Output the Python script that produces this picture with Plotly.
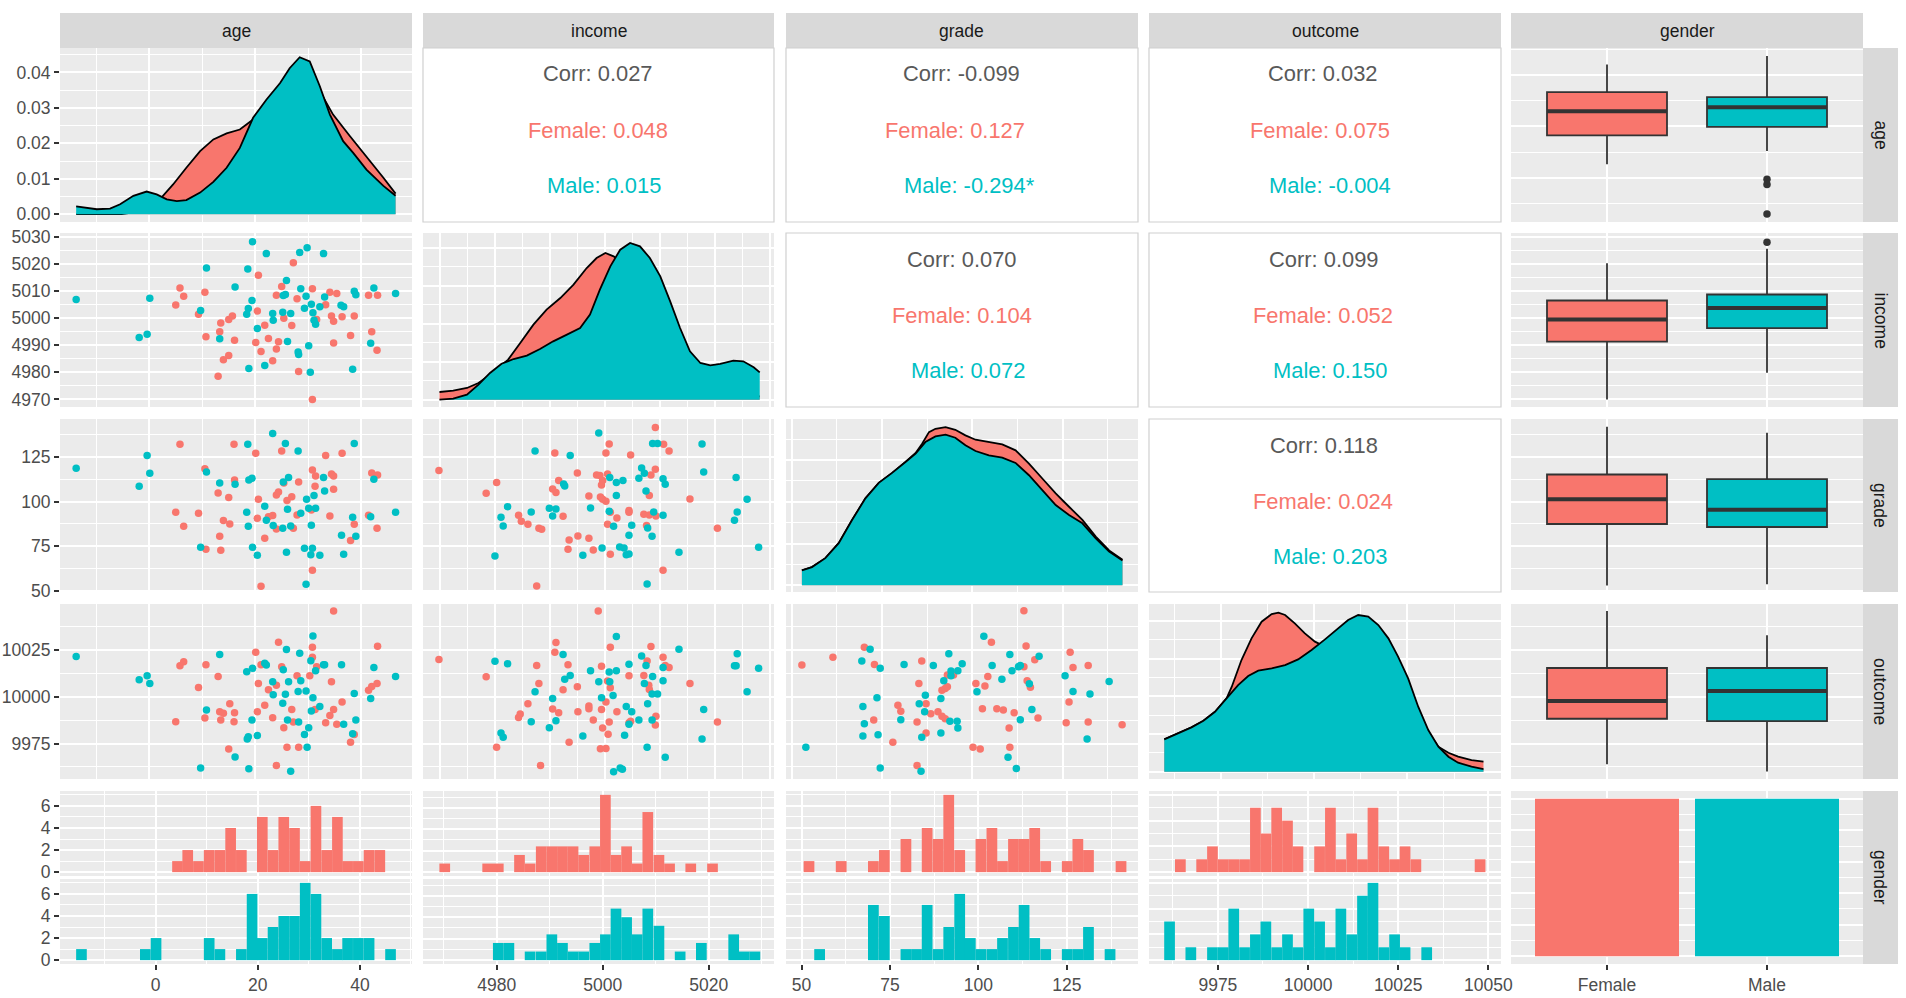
import plotly.graph_objects as go

FEMALE = "#F8766D"
MALE = "#00BFC4"

variables = ["age", "income", "grade", "outcome", "gender"]

# ---- diagonal densities (x, density) ----
age_dens_f_x = [-13.8, -9.9, -5.2, -3.0, -0.5, 2.3, 4.5, 7.0, 9.6, 12.1, 14.6, 17.1, 19.6, 22.1,
                24.7, 26.5, 28.4, 30.3, 32.2, 34.7, 37.9, 41.0, 44.2, 46.5]
age_dens_f = [0.0, 0.0, 0.0, 0.0005, 0.0019, 0.0047, 0.0084, 0.0131, 0.0178, 0.0211, 0.0228, 0.0239,
              0.0267, 0.0309, 0.0353, 0.0384, 0.0412, 0.0403, 0.0347, 0.0281, 0.0220, 0.0164, 0.0103, 0.0058]
age_dens_m_x = [-13.8, -9.9, -7.4, -5.5, -3.0, -0.5, 1.4, 3.3, 5.2, 7.0, 9.6, 12.1, 14.6, 17.1,
                19.6, 22.1, 24.7, 26.5, 28.4, 30.3, 32.2, 34.1, 36.6, 38.5, 41.0, 44.2, 46.5]
age_dens_m = [0.0022, 0.0014, 0.0016, 0.0028, 0.0052, 0.0064, 0.0056, 0.0042, 0.0037, 0.0040, 0.0061,
              0.0091, 0.0131, 0.0187, 0.0272, 0.0323, 0.0370, 0.0412, 0.0443, 0.0431, 0.0361, 0.0281,
              0.0206, 0.0173, 0.0126, 0.0080, 0.0052]

inc_dens_f_x = [4969.9, 4972.4, 4974.9, 4977.0, 4979.1, 4981.2, 4982.4, 4984.6, 4987.0, 4989.4, 4991.9,
                4994.3, 4996.7, 4998.5, 5000.1, 5001.6, 5002.8, 5004.6, 5006.4, 5008.2, 5010.1, 5011.9,
                5013.7, 5015.5, 5017.4, 5019.2, 5021.0, 5023.4, 5025.8, 5028.2]
inc_dens_f = [0.00202, 0.00237, 0.00307, 0.00439, 0.00658, 0.00904, 0.01053, 0.01491, 0.01974, 0.02368,
              0.02675, 0.03026, 0.03465, 0.03728, 0.03860, 0.03772, 0.03640, 0.03377, 0.02982, 0.02500,
              0.01974, 0.01447, 0.01009, 0.00658, 0.00439, 0.00307, 0.00219, 0.00158, 0.00132, 0.00088]
inc_dens_m_x = [4969.9, 4972.4, 4974.9, 4977.0, 4979.1, 4981.2, 4983.4, 4985.8, 4988.2, 4990.6, 4993.1,
                4995.5, 4997.3, 4999.1, 5001.0, 5002.8, 5004.6, 5006.4, 5008.2, 5010.1, 5011.9, 5013.7,
                5015.5, 5017.4, 5019.2, 5021.0, 5023.4, 5025.2, 5027.1, 5028.2]
inc_dens_m = [0.0, 0.00026, 0.00132, 0.00395, 0.00702, 0.00947, 0.01070, 0.01158, 0.01333, 0.01535,
              0.01711, 0.01886, 0.02237, 0.02895, 0.03509, 0.03947, 0.04123, 0.04035, 0.03728, 0.03246,
              0.02588, 0.01886, 0.01272, 0.00965, 0.00904, 0.00939, 0.01026, 0.01009, 0.00851, 0.00719]

grade_dens_f_x = [52.8, 55.6, 59.3, 63.0, 66.7, 70.4, 74.1, 77.8, 81.5, 84.3, 86.1, 88.0, 89.8, 92.6,
                  95.3, 98.1, 100.9, 104.6, 108.3, 112.0, 115.7, 119.4, 123.1, 126.8, 130.5, 134.2,
                  137.9, 141.6]
grade_dens_f = [0.00179, 0.00218, 0.00325, 0.00504, 0.00782, 0.01040, 0.01226, 0.01345, 0.01476, 0.01583,
                0.01694, 0.01833, 0.01873, 0.01893, 0.01861, 0.01794, 0.01742, 0.01714, 0.01687, 0.01615,
                0.01456, 0.01278, 0.01099, 0.00940, 0.00782, 0.00583, 0.00417, 0.00306]
grade_dens_m_x = [52.8, 55.6, 59.3, 63.0, 66.7, 70.4, 74.1, 77.8, 81.5, 84.3, 87.0, 89.8, 92.6, 95.3,
                  98.1, 100.9, 104.6, 108.3, 112.0, 115.7, 119.4, 123.1, 126.8, 130.5, 134.2, 137.9, 141.6]
grade_dens_m = [0.00179, 0.00218, 0.00325, 0.00504, 0.00782, 0.01040, 0.01226, 0.01345, 0.01476, 0.01575,
                0.01714, 0.01782, 0.01802, 0.01766, 0.01675, 0.01607, 0.01556, 0.01528, 0.01464, 0.01317,
                0.01139, 0.00960, 0.00841, 0.00742, 0.00563, 0.00405, 0.00298]

out_dens_f_x = [9959.8, 9963.6, 9967.1, 9970.3, 9973.4, 9976.5, 9977.9, 9980.5, 9983.2, 9985.9, 9988.6,
                9990.4, 9992.2, 9994.8, 9997.5, 10000.2, 10001.1, 10004.7, 10008.2, 10011.8, 10015.4,
                10019.0, 10022.5, 10026.1, 10029.7, 10032.4, 10033.3, 10036.0, 10038.6, 10042.2, 10045.4]
out_dens_f = [0.00429, 0.00509, 0.00588, 0.00677, 0.00796, 0.00973, 0.01128, 0.01482, 0.01770, 0.01991,
              0.02093, 0.02111, 0.02080, 0.01969, 0.01836, 0.01726, 0.01704, 0.01615, 0.01549, 0.01460,
              0.01372, 0.01239, 0.01062, 0.00841, 0.00575, 0.00398, 0.00332, 0.00252, 0.00199, 0.00155,
              0.00133]
out_dens_m_x = [9959.8, 9963.6, 9967.1, 9970.3, 9973.4, 9976.5, 9979.6, 9982.3, 9985.0, 9988.6, 9992.2,
                9995.7, 9999.3, 10002.9, 10006.5, 10009.1, 10011.8, 10014.5, 10017.2, 10019.9, 10022.5,
                10025.2, 10027.9, 10030.6, 10033.3, 10036.0, 10038.6, 10042.2, 10045.4]
out_dens_m = [0.00429, 0.00509, 0.00588, 0.00677, 0.00796, 0.00973, 0.01150, 0.01270, 0.01341, 0.01372,
              0.01416, 0.01491, 0.01615, 0.01757, 0.01903, 0.02013, 0.02080, 0.02058, 0.01947, 0.01770,
              0.01527, 0.01239, 0.00863, 0.00553, 0.00332, 0.00199, 0.00119, 0.00066, 0.00035]

# ---- scatter panels (x, y) ----
age_income_f = [(5.0, 5004.8), (5.8, 5011.1), (6.5, 5008.1), (9.3, 5001.4), (10.5, 5009.5), (10.7, 4993.1),
    (13.0, 4978.5), (13.3, 4995.0), (13.5, 4998.2), (14.0, 4984.6), (15.0, 4999.5), (15.0, 4986.2),
    (15.7, 5000.8), (16.1, 4991.8), (20.1, 4991.0), (20.4, 5002.6), (20.6, 5015.8), (21.1, 4987.7),
    (21.8, 4997.4), (22.5, 4992.5), (23.3, 4984.3), (24.0, 4988.6), (24.0, 5008.4), (24.4, 4991.3),
    (25.0, 5011.7), (25.4, 4999.9), (26.9, 4997.3), (27.2, 5020.4), (27.9, 5007.1), (28.2, 4980.3),
    (30.8, 5010.8), (30.8, 4970.0), (31.6, 4999.5), (33.3, 5004.9), (34.1, 5009.5), (34.4, 5000.8),
    (34.8, 4998.8), (34.8, 4990.8), (35.4, 5009.1), (36.4, 5000.5), (38.0, 4993.6), (38.7, 5000.8),
    (41.4, 5008.4), (42.0, 4995.0), (43.0, 4988.1), (43.1, 5008.4)]
age_income_m = [(-13.8, 5006.9), (-1.9, 4992.8), (-0.4, 4994.0), (0.1, 5007.3), (9.7, 5002.8), (10.8, 5018.5),
    (13.3, 4992.4), (16.2, 5011.5), (18.4, 5001.4), (18.6, 5018.1), (18.7, 5003.5), (18.8, 4981.4),
    (19.4, 5006.5), (19.5, 5028.2), (20.4, 4996.2), (21.8, 4982.5), (22.1, 5023.8), (23.3, 5001.7),
    (23.4, 4999.2), (25.2, 5002.2), (25.3, 5008.3), (25.7, 5008.7), (25.9, 5013.9), (26.1, 4991.4),
    (26.7, 5001.7), (28.1, 4987.5), (28.2, 4986.6), (28.4, 5024.2), (28.6, 5010.8), (29.3, 5003.6),
    (29.6, 5008.1), (29.8, 5026.0), (30.1, 4989.8), (30.4, 4980.0), (30.6, 5005.1), (30.9, 5002.0),
    (31.1, 4999.2), (31.4, 4997.7), (32.2, 5004.2), (32.9, 5023.8), (33.1, 5007.8), (36.2, 5004.7),
    (36.7, 5004.2), (38.4, 4981.1), (38.7, 5009.9), (39.0, 5008.6), (41.8, 4990.7), (42.4, 5011.1),
    (46.5, 5009.1)]

age_grade_f = [(5.0, 94.0), (5.8, 132.1), (6.5, 86.2), (9.3, 93.5), (10.5, 118.5), (10.7, 73.3), (13.0, 104.9),
    (13.3, 80.6), (13.5, 72.8), (14.0, 89.4), (15.0, 102.4), (15.2, 87.5), (16.0, 132.1), (16.1, 112.1),
    (20.1, 127.1), (20.4, 90.7), (20.6, 101.3), (21.1, 52.6), (21.8, 79.5), (22.5, 91.6), (23.3, 92.2),
    (24.0, 84.7), (24.0, 103.7), (24.4, 105.4), (25.0, 128.4), (25.4, 110.4), (26.0, 100.6), (26.9, 102.8),
    (27.2, 85.1), (27.9, 92.5), (28.2, 111.0), (30.6, 95.3), (30.8, 61.6), (30.8, 117.7), (31.3, 108.6),
    (31.4, 114.4), (33.3, 125.9), (34.1, 92.0), (34.8, 106.9), (34.4, 115.5), (34.8, 114.4), (36.4, 127.1),
    (38.0, 78.2), (38.7, 87.3), (41.4, 92.4), (42.0, 116.0), (43.1, 114.9), (43.0, 85.1)]
age_grade_m = [(-13.8, 118.7), (-1.9, 108.6), (-0.4, 125.9), (0.1, 115.9), (9.7, 74.4), (10.8, 116.6),
    (13.3, 110.4), (16.2, 109.7), (18.4, 94.0), (18.6, 132.1), (18.7, 86.2), (18.8, 112.1), (19.4, 113.1),
    (19.5, 74.4), (20.4, 70.0), (21.8, 97.4), (22.1, 89.6), (23.3, 138.2), (23.4, 86.6), (25.2, 85.1),
    (25.3, 111.0), (25.7, 132.6), (25.9, 71.6), (26.1, 95.7), (26.3, 113.6), (26.7, 86.4), (28.1, 128.4),
    (28.6, 93.5), (29.3, 73.9), (29.6, 53.7), (29.7, 101.3), (30.1, 96.3), (30.6, 86.8), (30.5, 70.2),
    (30.8, 73.9), (31.1, 103.4), (31.4, 96.3), (32.2, 70.0), (32.9, 113.6), (33.1, 106.0), (36.3, 81.2),
    (36.7, 70.5), (38.4, 91.2), (38.7, 132.6), (39.0, 80.6), (41.8, 91.6), (42.4, 112.5), (46.5, 94.0)]

age_outcome_f = [(5.0, 9986.7), (5.8, 10016.7), (6.5, 10018.9), (9.3, 10005.0), (10.5, 9988.7), (10.7, 10017.3),
    (13.0, 10011.0), (13.3, 9992.1), (13.5, 9987.6), (14.0, 9991.2), (15.0, 9972.1), (15.2, 9996.4),
    (16.0, 9986.7), (16.1, 9991.5), (20.1, 10023.9), (20.4, 9992.1), (20.6, 10007.2), (21.1, 10017.3),
    (21.8, 9995.5), (22.5, 10003.8), (23.3, 9988.8), (24.0, 9963.3), (24.0, 10006.3), (25.0, 10016.2),
    (24.4, 10029.3), (25.4, 9983.5), (26.9, 9993.3), (26.0, 9973.0), (27.2, 9986.5), (27.9, 10011.3),
    (28.2, 9973.0), (30.3, 10011.3), (30.8, 10026.6), (30.8, 10021.2), (31.3, 9993.3), (31.6, 10016.2),
    (33.3, 9986.2), (34.1, 9990.1), (34.4, 10008.1), (34.8, 9993.3), (34.8, 10046.0), (35.4, 9985.3),
    (36.4, 9997.3), (38.0, 9975.7), (38.7, 9979.9), (41.4, 10003.6), (42.0, 10005.6), (43.0, 10007.2),
    (43.1, 10027.2)]
age_outcome_m = [(-13.8, 10021.6), (-1.9, 10009.2), (-0.4, 10011.3), (0.1, 10007.2), (9.7, 9961.9),
    (10.8, 9993.0), (13.3, 10022.7), (16.2, 9967.8), (18.4, 10013.5), (18.7, 9978.6), (18.8, 9961.5),
    (19.4, 9987.6), (19.5, 10015.3), (18.5, 9977.5), (20.4, 9979.3), (21.8, 10018.0), (22.1, 10017.1),
    (23.3, 10008.1), (23.4, 10001.1), (25.2, 9996.6), (25.3, 10014.6), (25.7, 10001.4), (25.9, 10025.4),
    (26.1, 9987.6), (26.3, 10008.1), (26.7, 9960.1), (28.1, 10002.9), (28.2, 9986.5), (28.4, 10023.4),
    (28.6, 10008.6), (29.3, 9979.9), (29.6, 10003.2), (29.8, 9973.0), (30.1, 9983.5), (30.6, 9992.4),
    (30.9, 10032.6), (30.5, 10019.4), (30.9, 9999.6), (31.4, 10014.0), (32.2, 9994.8), (32.9, 10017.3),
    (33.1, 10017.3), (36.3, 10017.3), (36.7, 9985.3), (38.4, 9980.2), (38.7, 10001.8), (39.0, 9987.6),
    (41.8, 9999.1), (42.4, 10015.8), (46.5, 10011.0)]

income_grade_f = [(4969.8, 117.5), (4978.4, 104.7), (4980.3, 110.8), (4984.3, 92.4), (4984.8, 89.0),
    (4986.0, 87.3), (4987.6, 52.8), (4988.0, 85.1), (4988.5, 84.5), (4990.5, 107.1), (4991.1, 105.2),
    (4990.9, 127.2), (4991.6, 111.9), (4992.4, 91.8), (4993.3, 73.3), (4993.5, 78.5), (4995.0, 116.0),
    (4995.1, 80.8), (4997.1, 103.2), (4997.1, 79.5), (4997.9, 72.9), (4998.5, 114.9), (4999.1, 114.7),
    (4999.4, 109.3), (4999.6, 111.8), (4999.2, 102.6), (4999.6, 101.3), (5000.2, 100.2), (5000.2, 127.2),
    (5000.8, 132.3), (5000.5, 115.5), (5001.0, 94.0), (5001.0, 70.5), (5000.5, 87.3), (5002.2, 90.9),
    (5004.4, 95.1), (5004.4, 94.0), (5004.7, 126.1), (5007.1, 92.9), (5007.6, 86.6), (5008.1, 103.5),
    (5008.1, 92.5), (5009.3, 92.0), (5008.4, 114.9), (5009.2, 118.1), (5009.2, 141.6), (5010.7, 132.1),
    (5011.7, 128.4), (5010.6, 61.6), (5015.5, 101.5), (5020.5, 85.1)]
income_grade_m = [(4980.0, 69.6), (4981.1, 91.2), (4981.5, 86.4), (4982.3, 97.2), (4986.6, 94.2),
    (4987.3, 128.4), (4989.9, 96.3), (4990.5, 92.0), (4991.1, 95.9), (4992.5, 109.9), (4992.7, 108.8),
    (4993.7, 125.9), (4996.0, 70.0), (4997.4, 96.5), (4998.9, 138.4), (4999.5, 74.1), (5000.9, 113.6),
    (5000.8, 94.6), (5001.6, 86.2), (5002.1, 103.5), (5002.1, 110.8), (5003.3, 111.9), (5002.7, 74.6),
    (5003.5, 74.1), (5003.9, 70.3), (5004.4, 70.7), (5004.4, 81.2), (5004.9, 86.8), (5006.2, 113.1),
    (5006.7, 118.8), (5007.2, 115.9), (5007.5, 106.0), (5007.8, 85.3), (5007.7, 53.9), (5008.6, 80.6),
    (5008.9, 94.2), (5008.7, 132.6), (5009.6, 132.6), (5010.6, 112.9), (5011.0, 109.7), (5010.6, 92.4),
    (5013.5, 71.6), (5017.7, 132.3), (5018.0, 116.6), (5023.6, 89.6), (5024.1, 94.2), (5023.9, 113.6),
    (5025.9, 101.3), (5028.0, 74.4)]

income_outcome_f = [(4969.8, 10020.1), (4978.4, 10010.8), (4980.3, 9973.0), (4984.3, 9988.9), (4984.6, 9990.8),
    (4986.0, 9996.4), (4987.6, 10016.9), (4988.0, 10007.2), (4988.3, 9963.3), (4990.5, 9993.5),
    (4991.6, 9991.5), (4991.1, 10029.1), (4990.9, 10023.9), (4992.4, 10003.8), (4993.3, 10017.3),
    (4993.5, 9975.7), (4995.0, 10005.4), (4995.1, 9992.1), (4997.1, 9995.1), (4997.1, 9993.7),
    (4997.9, 9987.6), (4998.8, 10046.0), (4999.4, 10016.4), (4999.4, 9993.2), (4999.6, 9983.3),
    (4999.2, 9972.2), (5000.2, 9972.3), (5000.2, 9997.3), (5000.5, 10008.5), (5000.6, 9980.0),
    (5000.8, 9986.5), (5001.0, 10004.9), (5001.0, 10026.6), (5002.2, 9992.1), (5004.4, 10011.3),
    (5004.4, 9986.2), (5004.7, 9987.0), (5007.1, 10011.5), (5007.7, 10019.2), (5008.0, 10006.3),
    (5008.1, 10004.0), (5008.4, 10027.0), (5009.3, 9989.7), (5009.2, 9984.9), (5010.6, 10021.2),
    (5011.0, 10016.9), (5011.7, 10015.8), (5015.5, 10007.2), (5020.5, 9986.5)]
income_outcome_m = [(4980.0, 10019.1), (4982.3, 10017.8), (4981.1, 9980.6), (4981.5, 9978.4), (4986.6, 9986.7),
    (4987.3, 10002.7), (4989.9, 9983.5), (4990.5, 9999.1), (4991.1, 9987.2), (4992.4, 10022.7),
    (4992.7, 10009.4), (4993.7, 10011.5), (4996.0, 9979.0), (4997.4, 10014.0), (4998.9, 10008.1),
    (4999.4, 9999.6), (5000.8, 10013.3), (5000.9, 10008.1), (5001.5, 10000.7), (5002.1, 10032.4),
    (5002.1, 10014.0), (5001.6, 9959.9), (5002.8, 9961.9), (5003.2, 9961.2), (5003.6, 9979.5),
    (5003.9, 9994.8), (5004.4, 9985.3), (5004.4, 10017.5), (5004.9, 9992.1), (5006.2, 9987.6),
    (5006.7, 10021.9), (5007.2, 10007.2), (5007.5, 10016.9), (5007.8, 9996.4), (5007.7, 9973.0),
    (5008.6, 10001.5), (5008.7, 10011.0), (5009.6, 10001.6), (5008.6, 9987.6), (5010.6, 10008.6),
    (5010.6, 10015.8), (5011.0, 9967.6), (5013.5, 10025.5), (5017.7, 9977.5), (5018.0, 9993.2),
    (5023.6, 10016.7), (5023.9, 10016.7), (5024.1, 10023.2), (5025.9, 10002.7), (5028.0, 10015.3)]

grade_outcome_f = [(52.8, 10017.1), (61.4, 10021.2), (70.1, 10026.6), (72.9, 10017.4), (72.7, 9987.6),
    (78.0, 9975.7), (79.4, 9995.5), (80.2, 9992.3), (84.7, 9986.5), (85.2, 10007.2), (86.0, 10019.2),
    (84.7, 9963.3), (87.2, 9996.4), (87.2, 9980.6), (88.5, 9991.0), (90.5, 9992.1), (91.6, 9989.7),
    (92.5, 9988.3), (91.6, 10003.6), (92.5, 10004.5), (93.1, 10005.4), (93.1, 10011.7), (94.8, 10011.7),
    (100.2, 9973.0), (102.2, 9972.1), (101.0, 10007.2), (102.8, 9993.6), (103.5, 10005.9), (104.3, 10011.0),
    (105.3, 10029.3), (106.8, 9993.6), (108.6, 9993.0), (111.6, 9991.5), (110.2, 9983.3), (110.4, 9973.0),
    (114.3, 10046.2), (114.9, 10027.3), (114.3, 10016.2), (115.2, 10008.6), (116.1, 10005.2),
    (117.3, 10019.9), (118.2, 9988.7), (127.1, 10023.9), (127.9, 10015.8), (126.8, 9997.3),
    (126.0, 9986.2), (132.1, 10016.9), (132.1, 9986.5), (141.5, 9985.1)]
grade_outcome_m = [(53.9, 9973.0), (71.7, 10025.5), (69.4, 10019.2), (74.5, 10015.3), (73.6, 9999.6),
    (69.7, 9994.8), (70.1, 9985.6), (69.7, 9979.1), (73.9, 9979.7), (74.5, 9961.9), (80.2, 9987.8),
    (81.1, 10017.4), (85.3, 9996.4), (85.8, 9960.1), (87.0, 10000.9), (86.8, 9992.1), (86.0, 9978.4),
    (89.2, 10016.9), (91.3, 9999.1), (91.3, 9980.6), (92.1, 10008.6), (93.5, 10023.2), (94.1, 10013.9),
    (94.1, 10011.3), (93.8, 9986.9), (95.8, 9986.9), (96.0, 9983.3), (96.0, 10014.0), (97.2, 10017.8),
    (101.3, 10002.7), (103.2, 10032.5), (105.5, 10016.9), (108.2, 10009.4), (109.9, 9967.6),
    (110.4, 10022.7), (111.0, 10014.0), (112.2, 9961.6), (113.3, 9987.8), (112.8, 10016.2),
    (113.3, 10016.9), (115.8, 10007.0), (118.5, 10021.8), (116.5, 9993.2), (125.7, 10011.3),
    (127.9, 10002.9), (131.8, 9977.5), (132.6, 10001.5), (137.9, 10008.3)]

# ---- histograms (30 bins) ----
age_bins = [-14.5, -12.4, -10.4, -8.3, -6.2, -4.1, -2.0, 0.1, 2.2, 4.3, 6.3, 8.4, 10.5, 12.6, 14.7,
            16.8, 18.9, 20.9, 23.0, 25.1, 27.2, 29.3, 31.4, 33.5, 35.6, 37.6, 39.7, 41.8, 43.9, 46.0]
age_hist_f = [0, 0, 0, 0, 0, 0, 0, 0, 0, 1, 2, 1, 2, 2, 4, 2, 0, 5, 2, 5, 4, 1, 6, 2, 5, 1, 1, 2, 2, 0]
age_hist_m = [1, 0, 0, 0, 0, 0, 1, 2, 0, 0, 0, 0, 2, 1, 0, 1, 6, 2, 3, 4, 4, 7, 6, 2, 1, 2, 2, 2, 0, 1]

income_bins = [4970.2, 4972.2, 4974.2, 4976.3, 4978.3, 4980.3, 4982.3, 4984.3, 4986.3, 4988.4, 4990.4,
               4992.4, 4994.4, 4996.4, 4998.5, 5000.5, 5002.5, 5004.5, 5006.5, 5008.5, 5010.6, 5012.6,
               5014.6, 5016.6, 5018.6, 5020.7, 5022.7, 5024.7, 5026.7, 5028.7]
income_hist_f = [1, 0, 0, 0, 1, 1, 0, 2, 1, 3, 3, 3, 3, 2, 3, 9, 2, 3, 1, 7, 2, 1, 0, 1, 0, 1, 0, 0, 0, 0]
income_hist_m = [0, 0, 0, 0, 0, 2, 2, 0, 1, 1, 3, 2, 1, 1, 2, 3, 6, 5, 3, 6, 4, 0, 1, 0, 2, 0, 0, 3, 1, 1]

grade_bins = [52.1, 55.1, 58.2, 61.2, 64.3, 67.3, 70.3, 73.4, 76.4, 79.5, 82.5, 85.5, 88.6, 91.6, 94.7,
              97.7, 100.7, 103.8, 106.8, 109.9, 112.9, 115.9, 119.0, 122.0, 125.1, 128.1, 131.1, 134.2,
              137.2, 140.3]
grade_hist_f = [1, 0, 0, 1, 0, 0, 1, 2, 0, 3, 0, 4, 3, 7, 2, 0, 3, 4, 1, 3, 3, 4, 1, 0, 1, 3, 2, 0, 0, 1]
grade_hist_m = [0, 1, 0, 0, 0, 0, 5, 4, 0, 1, 1, 5, 1, 3, 6, 2, 1, 1, 2, 3, 5, 2, 1, 0, 1, 1, 3, 0, 1, 0]

outcome_bins = [9961.6, 9964.6, 9967.5, 9970.5, 9973.5, 9976.5, 9979.4, 9982.4, 9985.4, 9988.3, 9991.3,
                9994.3, 9997.2, 10000.2, 10003.2, 10006.2, 10009.1, 10012.1, 10015.1, 10018.0, 10021.0,
                10024.0, 10026.9, 10029.9, 10032.9, 10035.9, 10038.8, 10041.8, 10044.8, 10047.7]
outcome_hist_f = [0, 1, 0, 1, 2, 1, 1, 1, 5, 3, 5, 4, 2, 0, 2, 5, 1, 3, 1, 5, 2, 1, 2, 1, 0, 0, 0, 0, 0, 1]
outcome_hist_m = [3, 0, 1, 0, 1, 1, 4, 1, 2, 3, 1, 2, 1, 4, 3, 1, 4, 2, 5, 6, 1, 2, 1, 0, 1, 0, 0, 0, 0, 0]

gender_counts = [50, 50]
gender_labels = ["Female", "Male"]

# ---- box plots: lower whisker, q1, median, q3, upper whisker ----
box_age = {"Female": [5.3, 16.5, 25.9, 33.3, 44.1], "Male": [10.4, 19.8, 27.4, 31.4, 47.4]}
box_income = {"Female": [4970.0, 4991.3, 4999.5, 5006.5, 5020.2], "Male": [4979.8, 4996.3, 5003.7, 5008.7, 5025.6]}
box_grade = {"Female": [53.0, 87.5, 101.3, 115.2, 142.0], "Male": [53.8, 85.8, 95.4, 112.6, 138.6]}
box_outcome = {"Female": [9963.9, 9988.3, 9997.8, 10015.5, 10046.1], "Male": [9960.0, 9987.0, 10003.2, 10015.5, 10033.1]}
outliers_age_m = [-0.6, -2.6, -14.1]
outliers_income_m = [5028.0]

corr_texts = [
    ["Corr: 0.027", "Female: 0.048", "Male: 0.015"],
    ["Corr: -0.099", "Female: 0.127", "Male: -0.294*"],
    ["Corr: 0.032", "Female: 0.075", "Male: -0.004"],
    ["Corr: 0.070", "Female: 0.104", "Male: 0.072"],
    ["Corr: 0.099", "Female: 0.052", "Male: 0.150"],
    ["Corr: 0.118", "Female: 0.024", "Male: 0.203"],
]

# ---- layout geometry (screen pixels) ----
W, H = 1906, 998
COLS = [(60, 412), (423, 774), (786, 1138), (1149, 1501), (1511, 1863)]
ROWS = [(48, 222), (233, 407), (419, 592), (604, 779), (791, 964)]
HSUB = [(791, 876), (879, 964)]
FONT = "Liberation Sans, Arial, sans-serif"
TICKFONT = dict(family=FONT, size=17.5, color="#4D4D4D")


def px(x):
    return x / W


def py(y):
    return 1 - y / H


fig = go.Figure()
n_axes = [0]


def axis(dom, rng, major, minor, labels, anchor, fmt):
    return dict(domain=dom, range=rng, anchor=anchor, tickmode="array", tickvals=major,
                ticktext=[fmt(v) for v in major],
                showgrid=True, gridcolor="white", gridwidth=2.4, zeroline=False, showline=False,
                minor=dict(tickmode="array", tickvals=minor, showgrid=True, gridcolor="white",
                           gridwidth=1.2, ticks=""),
                showticklabels=labels, ticks="outside" if labels else "", ticklen=5, tickwidth=1.6,
                tickcolor="#333333", tickfont=TICKFONT, automargin=False, fixedrange=True)


def panel(col, top, bottom, xr, xgrid, yr, ygrid, xlab=False, ylab=False, xfmt=str, yfmt=str):
    n_axes[0] += 1
    k = "" if n_axes[0] == 1 else str(n_axes[0])
    xdom = [px(COLS[col][0]), px(COLS[col][1])]
    ydom = [py(bottom), py(top)]
    fig.update_layout(**{
        "xaxis" + k: axis(xdom, xr, xgrid[0], xgrid[1], xlab, "y" + k, xfmt),
        "yaxis" + k: axis(ydom, yr, ygrid[0], ygrid[1], ylab, "x" + k, yfmt),
    })
    return "x" + k, "y" + k


def fmt_int(v):
    return str(int(v)) if float(v).is_integer() else str(v)


def fmt_dens(v):
    return f"{v:.2f}"


def cat_fmt(v):
    return gender_labels[int(v) - 1]


# axis settings: (range, (major, minor))
AGE_X = ([-16.85, 49.6], ([0, 20, 40], [-10, 10, 30]))
INC_X = ([4966.9, 5030.8], ([4970, 4980, 4990, 5000, 5010, 5020, 5030], [4975, 4985, 4995, 5005, 5015, 5025]))
GRA_X = ([48.4, 145.9], ([50, 75, 100, 125], [62.5, 87.5, 112.5, 137.5]))
OUT_X = ([9955.7, 10050.1], ([9975, 10000, 10025, 10050], [9962.5, 9987.5, 10012.5, 10037.5]))
INC_Y = ([4967.2, 5031.4], ([4970, 4980, 4990, 5000, 5010, 5020, 5030], [4975, 4985, 4995, 5005, 5015, 5025]))
GRA_Y = ([49.4, 146.3], ([50, 75, 100, 125], [62.5, 87.5, 112.5, 137.5]))
OUT_Y = ([9956.0, 10049.8], ([9975, 10000, 10025], [9962.5, 9987.5, 10012.5, 10037.5]))
AGE_BOX_Y = ([-17.2, 50.5], ([0, 20, 40], [-10, 10, 30, 50]))
AGE_DENS_Y = ([-0.0022, 0.0469], ([0, 0.01, 0.02, 0.03, 0.04], [0.005, 0.015, 0.025, 0.035, 0.045]))
INC_DENS_Y = ([-0.00193, 0.04386], ([0, 0.01, 0.02, 0.03, 0.04], [0.005, 0.015, 0.025, 0.035]))
GRA_DENS_Y = ([-0.0008, 0.0199], ([0, 0.005, 0.01, 0.015], [0.0025, 0.0075, 0.0125, 0.0175]))
OUT_DENS_Y = ([-0.00097, 0.02226], ([0, 0.005, 0.01, 0.015, 0.02], [0.0025, 0.0075, 0.0125, 0.0175]))
CAT_X = ([0.4, 2.6], ([1, 2], []))


def add_density(xa, ya, xs, ds, color):
    fig.add_trace(go.Scatter(x=xs + [xs[-1], xs[0]], y=ds + [0, 0], fill="toself", fillcolor=color,
                             mode="lines", line=dict(width=0), hoverinfo="skip", xaxis=xa, yaxis=ya))
    fig.add_trace(go.Scatter(x=xs, y=ds, mode="lines", line=dict(color="black", width=1.8),
                             hoverinfo="skip", xaxis=xa, yaxis=ya))


def add_points(xa, ya, pts, color):
    fig.add_trace(go.Scatter(x=[p[0] for p in pts], y=[p[1] for p in pts], mode="markers",
                             marker=dict(color=color, size=7.5, line=dict(width=0)), xaxis=xa, yaxis=ya))


def add_boxes(xa, ya, stats, outliers=None):
    for pos, (name, color) in enumerate([("Female", FEMALE), ("Male", MALE)], start=1):
        lo, q1, med, q3, hi = stats[name]
        fig.add_trace(go.Box(x=[pos], q1=[q1], median=[med], q3=[q3], lowerfence=[lo], upperfence=[hi],
                             width=0.75, fillcolor=color, line=dict(color="#333333", width=1.8),
                             whiskerwidth=0, boxpoints=False, xaxis=xa, yaxis=ya))
        fig.add_trace(go.Scatter(x=[pos - 0.375, pos + 0.375], y=[med, med], mode="lines",
                                 line=dict(color="#333333", width=4), xaxis=xa, yaxis=ya))
    if outliers:
        fig.add_trace(go.Scatter(x=[2] * len(outliers), y=outliers, mode="markers",
                                 marker=dict(color="#333333", size=7.5), xaxis=xa, yaxis=ya))


# ---- row 1 ----
xa, ya = panel(0, *ROWS[0], *AGE_X, *AGE_DENS_Y, ylab=True, yfmt=fmt_dens)
add_density(xa, ya, age_dens_f_x, age_dens_f, FEMALE)
add_density(xa, ya, age_dens_m_x, age_dens_m, MALE)
xa, ya = panel(4, *ROWS[0], *CAT_X, *AGE_BOX_Y)
add_boxes(xa, ya, box_age, outliers_age_m)

# ---- row 2 ----
xa, ya = panel(0, *ROWS[1], *AGE_X, *INC_Y, ylab=True, yfmt=fmt_int)
add_points(xa, ya, age_income_f, FEMALE)
add_points(xa, ya, age_income_m, MALE)
xa, ya = panel(1, *ROWS[1], *INC_X, *INC_DENS_Y)
add_density(xa, ya, inc_dens_f_x, inc_dens_f, FEMALE)
add_density(xa, ya, inc_dens_m_x, inc_dens_m, MALE)
xa, ya = panel(4, *ROWS[1], *CAT_X, *INC_Y)
add_boxes(xa, ya, box_income, outliers_income_m)

# ---- row 3 ----
xa, ya = panel(0, *ROWS[2], *AGE_X, *GRA_Y, ylab=True, yfmt=fmt_int)
add_points(xa, ya, age_grade_f, FEMALE)
add_points(xa, ya, age_grade_m, MALE)
xa, ya = panel(1, *ROWS[2], *INC_X, *GRA_Y)
add_points(xa, ya, income_grade_f, FEMALE)
add_points(xa, ya, income_grade_m, MALE)
xa, ya = panel(2, *ROWS[2], *GRA_X, *GRA_DENS_Y)
add_density(xa, ya, grade_dens_f_x, grade_dens_f, FEMALE)
add_density(xa, ya, grade_dens_m_x, grade_dens_m, MALE)
xa, ya = panel(4, *ROWS[2], *CAT_X, *GRA_Y)
add_boxes(xa, ya, box_grade)

# ---- row 4 ----
xa, ya = panel(0, *ROWS[3], *AGE_X, *OUT_Y, ylab=True, yfmt=fmt_int)
add_points(xa, ya, age_outcome_f, FEMALE)
add_points(xa, ya, age_outcome_m, MALE)
xa, ya = panel(1, *ROWS[3], *INC_X, *OUT_Y)
add_points(xa, ya, income_outcome_f, FEMALE)
add_points(xa, ya, income_outcome_m, MALE)
xa, ya = panel(2, *ROWS[3], *GRA_X, *OUT_Y)
add_points(xa, ya, grade_outcome_f, FEMALE)
add_points(xa, ya, grade_outcome_m, MALE)
xa, ya = panel(3, *ROWS[3], *OUT_X, *OUT_DENS_Y)
add_density(xa, ya, out_dens_f_x, out_dens_f, FEMALE)
add_density(xa, ya, out_dens_m_x, out_dens_m, MALE)
xa, ya = panel(4, *ROWS[3], *CAT_X, *OUT_Y)
add_boxes(xa, ya, box_outcome)

# ---- row 5: histograms split by gender ----
hist_specs = [
    (age_bins, age_hist_f, age_hist_m, 2.087, ([-18.7, 50.2], ([0, 20, 40], [-10, 10, 30, 50])),
     ([-0.35, 7.35], ([0, 2, 4, 6], [1, 3, 5, 7]))),
    (income_bins, income_hist_f, income_hist_m, 2.018, ([4966.1, 5032.3], ([4980, 5000, 5020], [4970, 4990, 5010, 5030])),
     ([-0.45, 9.45], ([0, 2.5, 5, 7.5], [1.25, 3.75, 6.25, 8.75]))),
    (grade_bins, grade_hist_f, grade_hist_m, 3.04, ([45.6, 145.1], ([50, 75, 100, 125], [62.5, 87.5, 112.5, 137.5])),
     ([-0.35, 7.35], ([0, 2, 4, 6], [1, 3, 5, 7]))),
    (outcome_bins, outcome_hist_f, outcome_hist_m, 2.97, ([9955.9, 10053.5], ([9975, 10000, 10025, 10050], [9962.5, 9987.5, 10012.5, 10037.5])),
     ([-0.3, 6.3], ([0, 2, 4, 6], [1, 3, 5]))),
]
for c, (bins, hf, hm, bw, xspec, yspec) in enumerate(hist_specs):
    for s, (counts, color) in enumerate([(hf, FEMALE), (hm, MALE)]):
        xa, ya = panel(c, *HSUB[s], *xspec, *yspec, xlab=(s == 1), ylab=(c == 0), xfmt=fmt_int, yfmt=fmt_int)
        fig.add_trace(go.Bar(x=bins, y=counts, width=bw, marker=dict(color=color, line=dict(width=0)),
                             xaxis=xa, yaxis=ya))

xa, ya = panel(4, *ROWS[4], *CAT_X, [-2.5, 52.5], ([0, 10, 20, 30, 40, 50], [5, 15, 25, 35, 45]),
               xlab=True, xfmt=cat_fmt)
fig.add_trace(go.Bar(x=[1, 2], y=gender_counts, width=0.9, marker=dict(color=[FEMALE, MALE], line=dict(width=0)),
                     xaxis=xa, yaxis=ya))

# ---- strips, correlation panels ----
shapes, annots = [], []
STRIP_FONT = dict(family=FONT, size=17.5, color="#1A1A1A")
for c, name in enumerate(variables):
    x0, x1 = COLS[c]
    shapes.append(dict(type="rect", xref="paper", yref="paper", x0=px(x0), x1=px(x1),
                       y0=py(48), y1=py(13), fillcolor="#D9D9D9", line=dict(width=0), layer="below"))
    annots.append(dict(xref="paper", yref="paper", x=px((x0 + x1) / 2), y=py(31), text=name,
                       xanchor="center", yanchor="middle", showarrow=False, font=STRIP_FONT))
for r, name in enumerate(variables):
    y0, y1 = ROWS[r]
    shapes.append(dict(type="rect", xref="paper", yref="paper", x0=px(1863), x1=px(1898),
                       y0=py(y1), y1=py(y0), fillcolor="#D9D9D9", line=dict(width=0), layer="below"))
    annots.append(dict(xref="paper", yref="paper", x=px(1880.5), y=py((y0 + y1) / 2), text=name,
                       textangle=90, xanchor="center", yanchor="middle", showarrow=False, font=STRIP_FONT))

corr_cells = [(1, 0, [598, 598, 604]), (2, 0, [961.5, 955.5, 969]), (3, 0, [1322.6, 1320, 1330]),
              (2, 1, [961.5, 961.5, 967.6]), (3, 1, [1323.8, 1322.6, 1330]), (3, 2, [1323.8, 1322.6, 1330])]
text_colors = ["#595959", FEMALE, MALE]
for (c, r, xs), lines in zip(corr_cells, corr_texts):
    x0, x1 = COLS[c]
    y0, y1 = ROWS[r]
    shapes.append(dict(type="rect", xref="paper", yref="paper", x0=px(x0), x1=px(x1),
                       y0=py(y1), y1=py(y0), fillcolor="white", line=dict(color="#D0D0D0", width=1.2)))
    for i, (txt, xp) in enumerate(zip(lines, xs)):
        annots.append(dict(xref="paper", yref="paper", x=px(xp), y=py(y0 + [26, 82, 137][i]),
                           text=txt, xanchor="center", yanchor="middle", showarrow=False,
                           font=dict(family=FONT, size=21.9, color=text_colors[i])))

fig.update_layout(width=W, height=H, margin=dict(l=0, r=0, t=0, b=0), showlegend=False,
                  plot_bgcolor="#EBEBEB", paper_bgcolor="white", barmode="overlay",
                  shapes=shapes, annotations=annots, hovermode=False)

# the page body has a default margin; drop it so the figure sits at the window's corner
fig.write_html("out.html", config={"displayModeBar": False},
               post_script="document.body.style.margin='0';document.body.style.overflow='hidden';")
